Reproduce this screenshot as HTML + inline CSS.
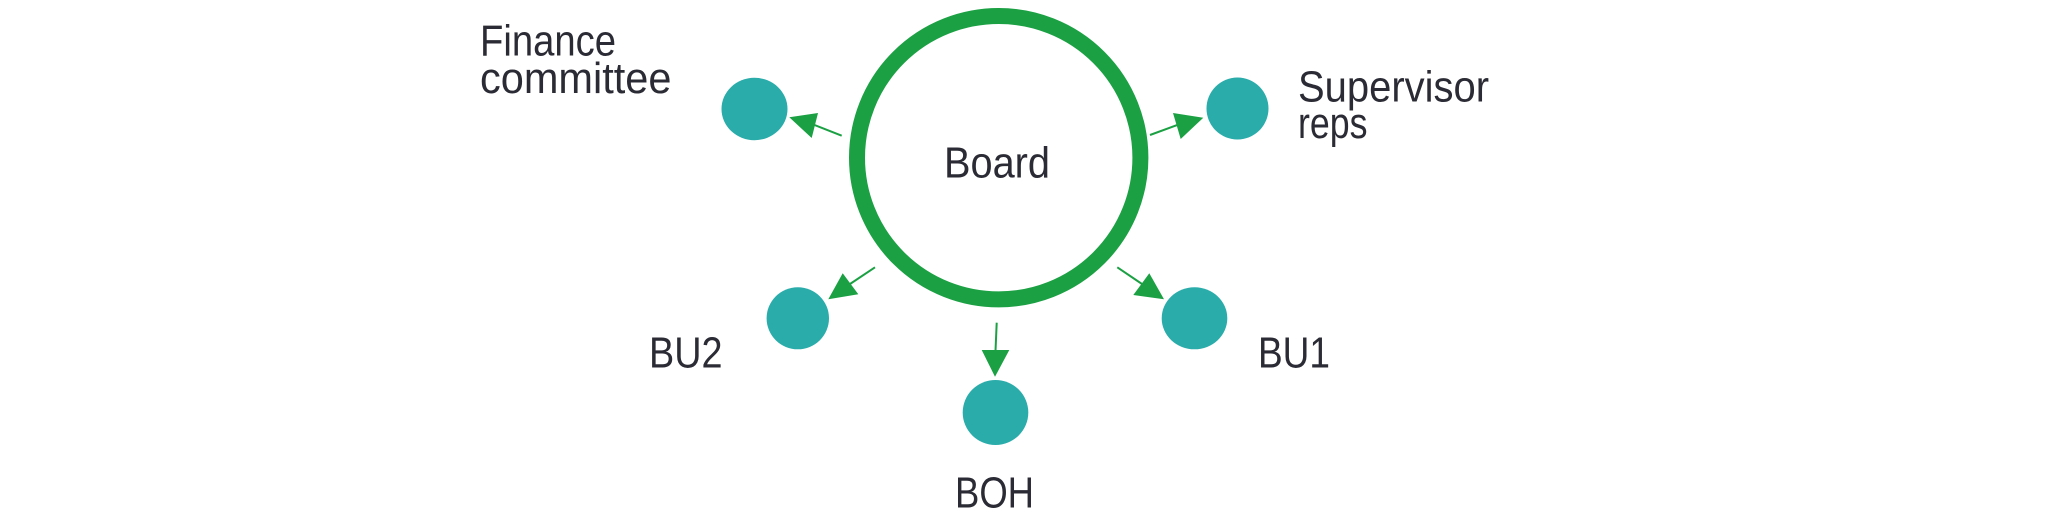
<!DOCTYPE html>
<html>
<head>
<meta charset="utf-8">
<style>
html,body{margin:0;padding:0;background:#fff;}
svg{display:block;}
text{font-family:"Liberation Sans",sans-serif;font-size:44px;fill:#2b2b35;}
</style>
</head>
<body>
<svg width="2048" height="525" viewBox="0 0 2048 525" xmlns="http://www.w3.org/2000/svg">
<rect width="2048" height="525" fill="#fff"/>
<!-- Board ring -->
<circle cx="998.7" cy="157.7" r="141.7" fill="#fff" stroke="#1ba043" stroke-width="16"/>
<text x="944" y="177.5" textLength="106" lengthAdjust="spacingAndGlyphs">Board</text>

<!-- teal nodes -->
<ellipse cx="754.5" cy="109" rx="33" ry="31.2" fill="#29acaa"/>
<ellipse cx="1237.5" cy="108.5" rx="31" ry="31" fill="#29acaa"/>
<ellipse cx="797.8" cy="318.3" rx="31.2" ry="31" fill="#29acaa"/>
<ellipse cx="1194.5" cy="318.3" rx="32.8" ry="31" fill="#29acaa"/>
<ellipse cx="995.5" cy="412.5" rx="32.8" ry="32.5" fill="#29acaa"/>

<!-- connectors -->
<g stroke="#1ba043" stroke-width="2" fill="none">
<line x1="841.7" y1="135.7" x2="812" y2="124"/>
<line x1="1150" y1="135" x2="1180" y2="124"/>
<line x1="875" y1="267.3" x2="850" y2="284"/>
<line x1="1117.3" y1="267.3" x2="1142" y2="284"/>
<line x1="996.7" y1="322.7" x2="995.5" y2="351"/>
</g>
<g fill="#1ba043">
<polygon points="789.3,117.3 818,113 811.7,138"/>
<polygon points="1203.3,117.7 1173,113 1180.7,139"/>
<polygon points="828.3,299.3 842.7,273.3 858.3,294.3"/>
<polygon points="1164,299.3 1133.3,295 1149.3,273.3"/>
<polygon points="995,376.7 981.7,350 1009.3,350"/>
</g>

<!-- labels -->
<text x="480" y="55.5" textLength="136" lengthAdjust="spacingAndGlyphs">Finance</text>
<text x="480" y="93" textLength="191.5" lengthAdjust="spacingAndGlyphs">committee</text>
<text x="1298" y="101.5" textLength="191" lengthAdjust="spacingAndGlyphs">Supervisor</text>
<text x="1298" y="138" textLength="69.5" lengthAdjust="spacingAndGlyphs">reps</text>
<text x="649" y="367.5" textLength="73.5" lengthAdjust="spacingAndGlyphs">BU2</text>
<text x="1258" y="367.5" textLength="72" lengthAdjust="spacingAndGlyphs">BU1</text>
<text x="955" y="507.5" textLength="79" lengthAdjust="spacingAndGlyphs">BOH</text>
</svg>
</body>
</html>
